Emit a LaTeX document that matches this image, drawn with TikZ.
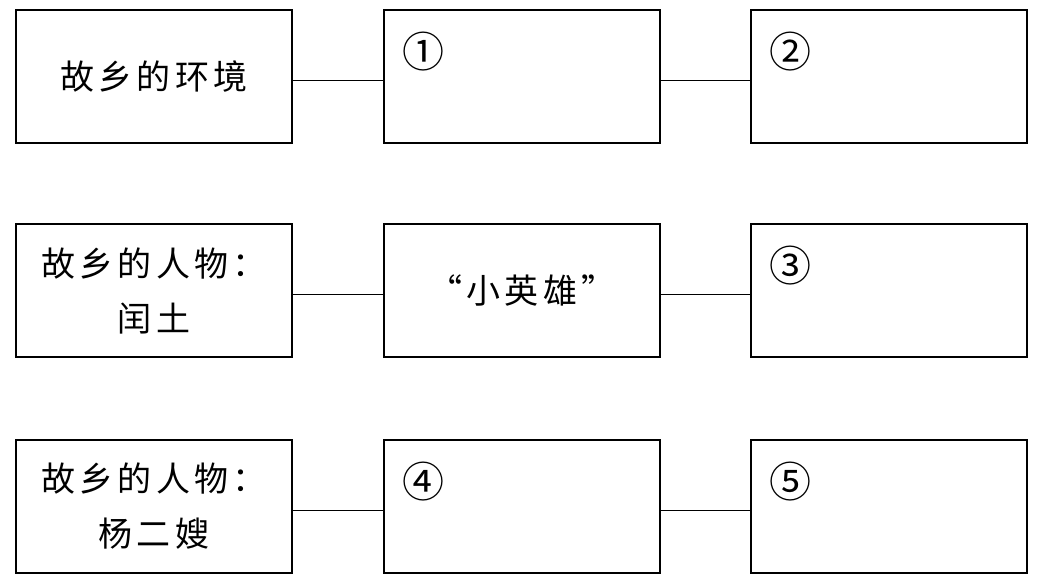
\documentclass[tikz,border=0pt]{standalone}
\usepackage{fontspec}
\newfontfamily\cjk[LetterSpace=12]{Noto Sans CJK SC}

\begin{document}
\begin{tikzpicture}[x=1pt, y=-1pt,
    box/.style={rectangle, draw, line width=1.6pt, minimum width=276pt, minimum height=133pt,
      inner sep=0pt, align=center, font=\cjk\fontsize{34pt}{55pt}\selectfont},
    num/.style={inner sep=0pt, font=\cjk\fontsize{42pt}{42pt}\selectfont}]
    \useasboundingbox (0,0) rectangle (1053,579);

    % 三行的框
    \node[box] (A1) at (154, 76.5) {故乡的环境};
    \node[box] (B1) at (522, 76.5) {};
    \node[box] (C1) at (889, 76.5) {};

    \node[box] (A2) at (154, 290.5) {故乡的人物：\\闰土};
    \node[box] (B2) at (522, 290.5) {“小英雄”};
    \node[box] (C2) at (889, 290.5) {};

    \node[box] (A3) at (154, 506.5) {故乡的人物：\\杨二嫂};
    \node[box] (B3) at (522, 506.5) {};
    \node[box] (C3) at (889, 506.5) {};

    % 填空的编号
    \node[num] (N1) at ([xshift=40pt, yshift=-42pt]B1.north west) {①};
    \node[num] (N2) at ([xshift=40pt, yshift=-42pt]C1.north west) {②};
    \node[num] (N3) at ([xshift=40pt, yshift=-42pt]C2.north west) {③};
    \node[num] (N4) at ([xshift=40pt, yshift=-42pt]B3.north west) {④};
    \node[num] (N5) at ([xshift=40pt, yshift=-42pt]C3.north west) {⑤};

    \draw[line width=1.4pt] ([yshift=-4pt]A1.east) -- ([yshift=-4pt]B1.west);
    \draw[line width=1.4pt] ([yshift=-4pt]B1.east) -- ([yshift=-4pt]C1.west);
    \draw[line width=1.4pt] ([yshift=-4pt]A2.east) -- ([yshift=-4pt]B2.west);
    \draw[line width=1.4pt] ([yshift=-4pt]B2.east) -- ([yshift=-4pt]C2.west);
    \draw[line width=1.4pt] ([yshift=-4pt]A3.east) -- ([yshift=-4pt]B3.west);
    \draw[line width=1.4pt] ([yshift=-4pt]B3.east) -- ([yshift=-4pt]C3.west);

\end{tikzpicture}
\end{document}
